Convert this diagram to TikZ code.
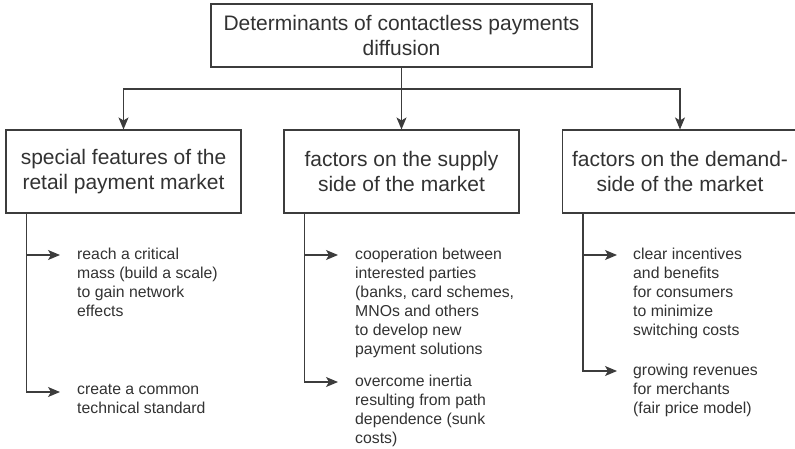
\documentclass[tikz,border=0pt]{standalone}
\usepackage{fontspec}
\setmainfont{Liberation Sans}
\usepackage{tikz}
\usetikzlibrary{positioning}
\usetikzlibrary{arrows.meta}
\usetikzlibrary{calc}
\definecolor{inkgray}{RGB}{50,50,50}
\definecolor{linegray}{RGB}{60,60,60}

\begin{document}
\begin{tikzpicture}[
    x=1pt, y=-1pt,
    headbox/.style={rectangle, draw=linegray, line width=1.1pt, align=center, text=inkgray, inner sep=0pt, font=\fontsize{21}{25}\selectfont},
    catbox/.style={headbox, minimum width=235pt, minimum height=83pt},
    item/.style={anchor=north west, align=left, inner sep=0pt, text=inkgray, font=\fontsize{15.8}{19}\selectfont},
    arrow/.style={-{Stealth[length=12pt, width=10pt, inset=3pt]}, line width=1.1pt, draw=linegray},
    trunk/.style={line width=1.1pt, draw=linegray}
]
\useasboundingbox (0,0) rectangle (795,448);

% Title
\node[headbox, minimum width=381pt, minimum height=63pt] (det) at (401.5,35.5) {Determinants of contactless payments\\diffusion};

% Categories
\node[catbox] (special) at (123.5,171.5) {special features of the\\retail payment market};
\node[catbox] (supply) at (401.5,171.5) {factors on the supply\\side of the market};
\node[catbox] (demand) at (680,171.5) {factors on the demand-\\side of the market};

% Branching
\coordinate (split) at (401.5,89);
\draw[trunk] (det) -- (split);
\draw[arrow] (split) -| (special.north);
\draw[arrow] (split) -- (supply);
\draw[arrow] (split) -| (demand.north);

% Items
\node[item] (reach) at (77,247.5) {reach a critical\\mass (build a scale)\\to gain network\\effects};
\node[item] (standard) at (77,384.5) {create a common\\technical standard};
\node[item] (coop) at (355,247.5) {cooperation between\\interested parties\\(banks, card schemes,\\MNOs and others\\to develop new\\payment solutions};
\node[item] (inertia) at (355,374.5) {overcome inertia\\resulting from path\\dependence (sunk\\costs)};
\node[item] (incent) at (633,247.5) {clear incentives\\and benefits\\for consumers\\to minimize\\switching costs};
\node[item] (revenue) at (633,363.5) {growing revenues\\for merchants\\(fair price model)};

% Item arrows
\draw[arrow] ([xshift=21pt]special.south west) |- ([shift={(-17pt,-7.5pt)}]reach.north west);
\draw[arrow] ([xshift=21pt]special.south west) |- ([shift={(-17pt,-7.5pt)}]standard.north west);
\draw[arrow] ([xshift=21pt]supply.south west) |- ([shift={(-17pt,-7.5pt)}]coop.north west);
\draw[arrow] ([xshift=21pt]supply.south west) |- ([shift={(-17pt,-7.5pt)}]inertia.north west);
\draw[arrow] ([xshift=21pt]demand.south west) |- ([shift={(-16pt,-7.5pt)}]incent.north west);
\draw[arrow] ([xshift=21pt]demand.south west) |- ([shift={(-16pt,-7.5pt)}]revenue.north west);

\end{tikzpicture}
\end{document}
